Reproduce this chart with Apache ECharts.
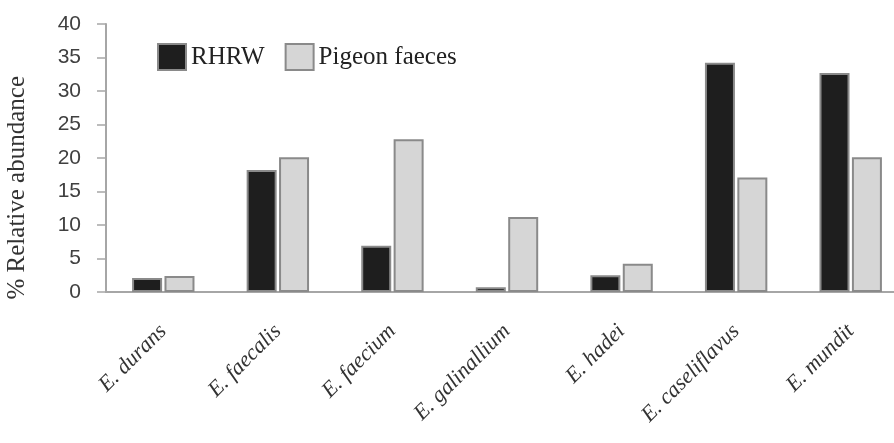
<!DOCTYPE html>
<html><head><meta charset="utf-8">
<script src="https://cdn.jsdelivr.net/npm/echarts@6/dist/echarts.min.js"></script>
<style>html,body{margin:0;padding:0;background:#fff}#c{width:894px;height:443px}</style>
</head><body><div id="c"></div>
<script>
const categories = ['E. durans','E. faecalis','E. faecium','E. galinallium','E. hadei','E. caseliflavus','E. mundit'];
const rhrw = [2.1, 18.2, 6.9, 0.7, 2.5, 34.2, 32.7];
const pigeon = [2.4, 20.1, 22.8, 11.2, 4.2, 17.1, 20.1];
const yTicks = [0,5,10,15,20,25,30,35,40];
const yTitle = '% Relative abundance';

const chart = echarts.init(document.getElementById('c'));
chart.setOption({
  animation:false,
  backgroundColor:'#fff',
  grid:{left:106,width:802,top:24,bottom:151,containLabel:false,outerBoundsMode:'none'},
  legend:{
    left:152, top:38, icon:'rect', itemWidth:28, itemHeight:26, itemGap:20,
    textStyle:{fontFamily:'Liberation Serif',fontSize:25,color:'#222'},
    data:['RHRW','Pigeon faeces']
  },
  graphic:[{
    type:'text', left:5, top:76, rotation:Math.PI/2,
    style:{text:yTitle, font:'25px "Liberation Serif"', fill:'#333'}
  }],
  xAxis:{
    type:'category', data:categories,
    axisLine:{lineStyle:{color:'#a6a6a6',width:2}},
    axisTick:{show:false},
    axisLabel:{rotate:45,margin:36,fontFamily:'Liberation Serif',fontStyle:'italic',fontSize:22,color:'#333',interval:0}
  },
  yAxis:{
    type:'value', min:0, max:40, interval:5,
    axisLine:{show:true,lineStyle:{color:'#a6a6a6',width:2}},
    axisTick:{show:true,length:9,lineStyle:{color:'#a6a6a6',width:1.5}},
    axisLabel:{fontFamily:'Liberation Sans',fontSize:21,color:'#404040',margin:25,
      formatter:v=>yTicks.includes(v)?String(v):''},
    splitLine:{show:false}
  },
  series:[
    {name:'RHRW',type:'bar',data:rhrw,barWidth:30,barGap:'8%',
     itemStyle:{color:'#1e1e1e',borderColor:'#8a8a8a',borderWidth:2}},
    {name:'Pigeon faeces',type:'bar',data:pigeon,barWidth:30,
     itemStyle:{color:'#d6d6d6',borderColor:'#8a8a8a',borderWidth:2}}
  ]
});
</script></body></html>
